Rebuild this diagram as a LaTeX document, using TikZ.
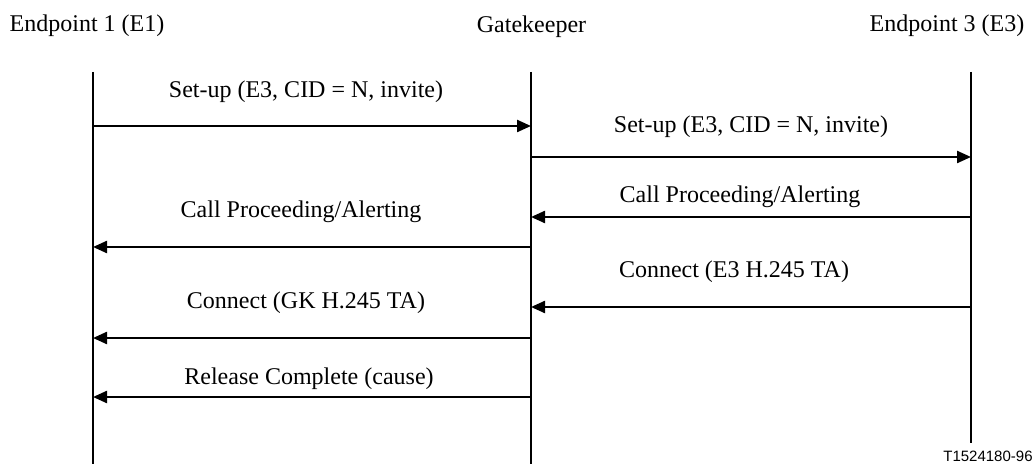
\documentclass[tikz,border=0pt]{standalone}
\usepackage{fontspec}
\setmainfont{Liberation Serif}
\newfontfamily\labelsans{Liberation Sans}
\usetikzlibrary{arrows.meta}
\tikzset{
  lifeline/.style={line width=1.15pt},
  msg/.style={line width=1.15pt,-{Triangle[length=7pt,width=6pt]}},
  hdr/.style={anchor=base,inner sep=0pt,font=\fontsize{12}{14}\selectfont},
  lbl/.style={anchor=base,inner sep=0pt,font=\fontsize{12}{14}\selectfont},
}
\begin{document}
\begin{tikzpicture}[x=0.5pt,y=-0.5pt]
\useasboundingbox (0,0) rectangle (1036,464);
% headers
\node[hdr] (h1) at (87,32) {Endpoint 1 (E1)};
\node[hdr] (h2) at (531.5,33) {Gatekeeper};
\node[hdr] (h3) at (947,32) {Endpoint 3 (E3)};
% lifelines
\coordinate (e1top) at (93,72);
\coordinate (e1bot) at (93,464);
\coordinate (gktop) at (531,72);
\coordinate (gkbot) at (531,464);
\coordinate (e3top) at (971,72);
\coordinate (e3bot) at (971,443);
\draw[lifeline] (e1top) -- (e1bot);
\draw[lifeline] (gktop) -- (gkbot);
\draw[lifeline] (e3top) -- (e3bot);
% message rows
\coordinate (r1) at (0,126);
\coordinate (r2) at (0,157);
\coordinate (r3) at (0,217);
\coordinate (r4) at (0,247);
\coordinate (r5) at (0,307);
\coordinate (r6) at (0,338);
\coordinate (r7) at (0,397);
\draw[msg] (e1top |- r1) -- (gktop |- r1);
\draw[msg] (gktop |- r2) -- (e3top |- r2);
\draw[msg] (e3top |- r3) -- (gktop |- r3);
\draw[msg] (gktop |- r4) -- (e1top |- r4);
\draw[msg] (e3top |- r5) -- (gktop |- r5);
\draw[msg] (gktop |- r6) -- (e1top |- r6);
\draw[msg] (gktop |- r7) -- (e1top |- r7);
% labels
\node[lbl] (l1) at (306,98) {Set-up (E3, CID = N, invite)};
\node[lbl] (l2) at (751,133) {Set-up (E3, CID = N, invite)};
\node[lbl] (l3) at (740,203) {Call Proceeding/Alerting};
\node[lbl] (l4) at (301,218) {Call Proceeding/Alerting};
\node[lbl] (l5) at (734,278) {Connect (E3 H.245 TA)};
\node[lbl] (l6) at (306,308) {Connect (GK H.245 TA)};
\node[lbl] (l7) at (309,384) {Release Complete (cause)};
\node[anchor=base east,inner sep=0pt,font=\labelsans\fontsize{7.5}{9}\selectfont] (tag) at (1033,461) {T1524180-96};
\end{tikzpicture}
\end{document}
